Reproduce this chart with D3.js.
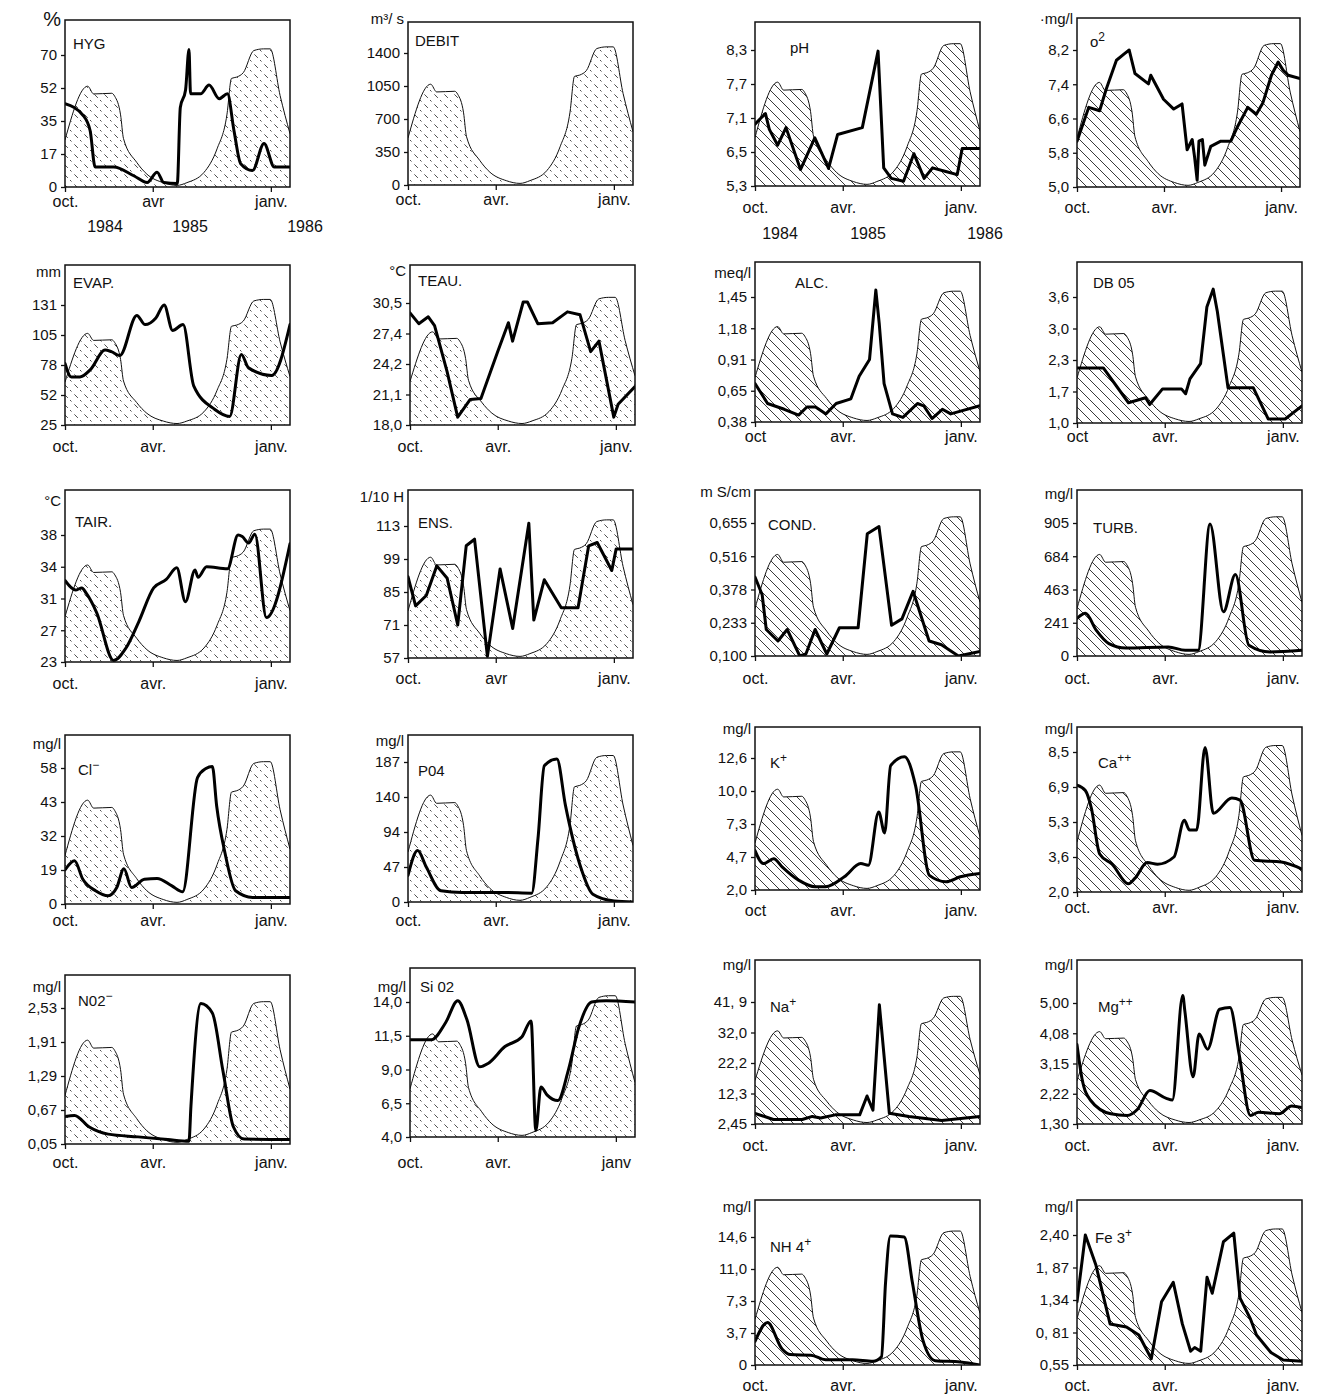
<!DOCTYPE html>
<html>
<head>
<meta charset="utf-8">
<script src="https://cdn.jsdelivr.net/npm/d3@7"></script>
<style>
  body { margin: 0; background: #fff; }
  text { font-family: "Liberation Sans", Arial, sans-serif; fill: #111; }
</style>
</head>
<body>
<div id="chart"></div>
<script>
// months counted from 1 oct. 1984

// discharge (m3/s), used as the hatched background of every plate
const debit = [[0,499],[1.55,1069],[1.96,987],[3.2,994],[3.4,962],[3.8,765],[4.0,513],[4.9,262],[5.6,136],[6.8,46],[7.85,17],[8.6,46],[9.9,154],[10.9,405],[11.65,765],[12.0,1152],[12.4,1166],[12.9,1213],[13.7,1447],[14.45,1465],[14.95,1465],[15.7,970],[16.45,565]];

const hyg = [[0,43.9],[1.26,37.7],[1.72,29.7],[2.06,10.3],[3.33,10.3],[4.7,5.8],[5.62,2.3],[6.33,7.6],[6.84,2.3],[7.87,1.8],[8.1,42],[8.5,51],[8.76,73],[8.88,49],[9.65,49],[10.29,53.6],[11.06,46.5],[11.69,49],[12.19,29.7],[12.7,12],[13.6,8.5],[14.48,22.7],[15.26,10.3],[16.45,10.3]];
const ph = [[0,6.99],[0.71,7.18],[0.98,6.9],[1.55,6.62],[2.12,6.93],[3.11,5.88],[4.09,6.75],[5.03,5.92],[5.65,6.81],[7.49,6.93],[8.69,8.28],[9.12,5.94],[9.7,5.57],[10.63,5.47],[11.42,6.44],[12.2,5.57],[12.84,5.94],[13.78,5.82],[14.72,5.7],[15.1,6.56],[16.45,6.56]];
const o2 = [[0,6.07],[0.81,6.86],[1.56,6.78],[2.02,7.29],[2.72,7.96],[3.3,8.12],[3.6,8.2],[4.0,7.65],[4.93,7.41],[5.09,7.61],[5.97,7.05],[6.75,6.82],[7.39,6.94],[7.78,5.87],[8.17,6.11],[8.35,5.71],[8.55,5.16],[8.69,6.07],[8.95,6.11],[9.14,5.51],[9.6,5.95],[10.37,6.07],[11.14,6.07],[11.67,6.42],[12.44,6.86],[13.1,6.7],[13.61,6.97],[14.26,7.61],[14.78,7.92],[15.15,7.73],[15.55,7.61],[16.45,7.53]];
const evap = [[0,79.4],[0.43,67.6],[1.02,67.6],[1.74,74],[2.74,91.5],[3.17,90],[3.75,86.5],[4.91,122],[5.48,114],[6.22,119.5],[6.87,131],[7.51,109],[8.31,114],[9.12,60],[10.73,39],[11.86,32.7],[12.75,87.5],[13.3,75.5],[15.07,69],[16.45,114]];
const teau = [[0,29.5],[0.6,28.4],[1.25,29.1],[1.68,28.2],[2.54,23.4],[3.26,18.8],[4.12,20.6],[4.85,20.7],[6,25.5],[6.81,28.5],[7.13,26.6],[7.94,30.6],[8.26,30.6],[9.05,28.4],[10.18,28.5],[11.31,29.6],[12.27,29.3],[13.08,25.5],[13.71,26.6],[14.84,18.8],[15.17,20.1],[16.45,21.9]];
const alc = [[0,0.71],[0.86,0.54],[2,0.49],[2.98,0.44],[3.55,0.51],[4.14,0.51],[4.85,0.45],[5.55,0.54],[6.62,0.58],[7.25,0.77],[8.04,0.91],[8.52,1.51],[8.78,1.22],[9.15,0.71],[9.79,0.45],[10.58,0.42],[11.69,0.54],[12.17,0.52],[12.8,0.41],[13.59,0.49],[14.23,0.45],[16.45,0.52]];
const db05 = [[0,2.15],[1.8,2.15],[3.52,1.45],[4.69,1.56],[4.97,1.41],[5.85,1.75],[7.27,1.75],[7.59,1.65],[7.92,1.94],[8.73,2.23],[9.21,3.41],[9.69,3.75],[10.01,3.32],[10.82,1.77],[12.75,1.77],[13.88,1.09],[15.17,1.09],[16.45,1.38]];
const tair = [[0,32.7],[0.72,31.8],[1.15,32],[1.45,31.5],[2.17,29.2],[3.32,23.2],[4.18,24.8],[5.05,28.1],[6.07,32],[7.03,32.8],[7.83,33.9],[8.49,30.6],[9.22,33.7],[9.45,33],[10.1,34],[11.69,33.8],[12.5,38],[12.82,37.8],[13.3,37],[13.78,38.1],[14.66,28.6],[16.45,36.9]];
const ens = [[0,91.5],[0.52,79.1],[1.25,83.5],[1.97,96.1],[2.68,90.8],[3.4,71],[3.98,104.6],[4.55,107.4],[5.43,57.7],[6.33,94.8],[7.29,69.5],[8.52,114.2],[8.9,73.1],[9.7,90.2],[10.99,78.3],[12.27,78.3],[13.08,104.6],[13.73,106],[14.84,94.1],[15.17,103.2],[16.45,103.2]];
const cond = [[0,0.43],[0.49,0.355],[0.77,0.206],[1.57,0.16],[2.2,0.206],[3.06,0.1],[3.48,0.108],[4.11,0.206],[4.91,0.108],[5.77,0.213],[7.17,0.213],[7.87,0.61],[8.76,0.64],[9.72,0.223],[10.51,0.25],[11.36,0.37],[12.58,0.16],[13.52,0.145],[14.81,0.1],[16.45,0.118]];
const turb = [[0,270],[0.58,304],[1.31,187],[2.18,90],[3.34,58],[6.27,66],[7.56,41],[8.54,41],[9.45,898],[10.47,314],[11.38,563],[12.41,78],[14.02,29],[16.45,41]];
const cl = [[0,19],[0.65,22.5],[1.22,13.8],[2.09,7.4],[2.95,4.6],[3.54,9.2],[4.03,19.5],[4.55,9.2],[5.43,13.8],[6.33,14.2],[7.46,10.1],[8.28,6.8],[9.41,53.8],[10.05,57.8],[10.54,58.7],[10.87,41.7],[11.5,25.6],[12.31,7.4],[13.61,3.7],[16.45,3.7]];
const po4 = [[0,35.6],[0.66,69],[1.25,47],[2.25,15],[3.69,12.8],[6.65,12.8],[8.74,11.9],[9.22,85.6],[9.7,182],[10.66,191],[11.31,129],[12.43,49],[13.4,10.5],[15.02,1.4],[16.45,0]];
const kPlus = [[0,5.2],[0.57,4.16],[1.28,4.56],[1.85,3.9],[2.98,2.81],[4.12,2.27],[4.83,2.27],[6.12,3.08],[7.37,4.16],[7.95,4.03],[8.74,8.28],[9.19,6.6],[9.65,12.0],[10.7,12.7],[11.55,10.4],[12.6,3.2],[13.87,2.68],[14.96,3.08],[16.45,3.35]];
const ca = [[0,6.98],[0.57,6.74],[0.98,5.94],[1.55,3.75],[2.4,3.27],[3.52,2.38],[3.95,2.62],[4.8,3.35],[5.51,3.27],[6.7,3.6],[7.49,5.38],[7.89,4.91],[8.43,4.91],[9.07,8.71],[9.7,5.7],[11.11,6.4],[11.74,6.3],[12.84,3.45],[14.88,3.37],[16.45,3.05]];
const no2 = [[0,0.55],[0.65,0.57],[1.66,0.36],[2.95,0.23],[5,0.18],[7.15,0.13],[8.76,0.1],[8.91,0.74],[9.67,2.61],[10.54,2.44],[11.35,1.38],[12.15,0.36],[12.96,0.14],[16.45,0.13]];
const sio2 = [[0,11.2],[1.45,11.2],[2.45,12.5],[3.26,14.1],[3.89,12.7],[4.77,9.2],[5.34,9.45],[6.55,10.7],[7.83,11.4],[8.54,12.6],[8.9,4.5],[9.29,7.7],[9.77,7.1],[10.58,6.7],[11.38,8.95],[12.17,12.1],[13.15,14],[14.26,14.1],[16.45,14]];
const na = [[0,5.9],[1.26,3.9],[3.23,3.9],[3.92,4.9],[4.49,4.4],[5.48,5.4],[7.29,5.4],[7.85,11.5],[8.3,6.9],[8.79,41],[9.55,5.9],[11.04,4.9],[13.54,3.6],[16.45,4.9]];
const mg = [[0,3.73],[0.34,2.69],[0.91,2.03],[2.31,1.61],[3.43,1.56],[4.14,1.75],[4.98,2.32],[6.12,2.08],[6.58,2.03],[7.37,5.23],[7.53,4.76],[8.16,2.74],[8.62,4.06],[9.26,3.59],[10.18,4.81],[10.97,4.86],[11.66,3.45],[12.53,1.56],[13.16,1.66],[14.72,1.61],[15.67,1.85],[16.45,1.8]];
const nh4 = [[0,2.74],[0.85,4.87],[1.85,1.85],[2.42,1.2],[3.83,1.14],[4.82,0.6],[6.74,0.6],[8.31,0.43],[8.95,0.96],[9.26,9.4],[9.63,14.7],[10.68,14.6],[11.31,9.4],[12.1,2.9],[13.04,0.5],[14.95,0.35],[16.45,0]];
const fe = [[0,1.31],[0.57,2.4],[1.28,1.92],[2.26,0.95],[3.38,0.9],[4.23,0.79],[5.08,0.6],[5.78,1.31],[6.65,1.63],[7.34,0.95],[7.97,0.66],[8.28,0.69],[8.74,0.66],[9.22,1.71],[9.62,1.45],[10.47,2.29],[11.26,2.43],[11.74,1.37],[12.53,1.03],[12.99,0.79],[14.09,0.65],[15.03,0.59],[16.45,0.58]];

// tick labels of each y axis
const hygTicks = ["0","17","35","52","70"];
const debitTicks = ["0","350","700","1050","1400"];
const phTicks = ["5,3","6,5","7,1","7,7","8,3"];
const o2Ticks = ["5,0","5,8","6,6","7,4","8,2"];
const evapTicks = ["25","52","78","105","131"];
const teauTicks = ["18,0","21,1","24,2","27,4","30,5"];
const alcTicks = ["0,38","0,65","0,91","1,18","1,45"];
const db05Ticks = ["1,0","1,7","2,3","3,0","3,6"];
const tairTicks = ["23","27","31","34","38"];
const ensTicks = ["57","71","85","99","113"];
const condTicks = ["0,100","0,233","0,378","0,516","0,655"];
const turbTicks = ["0","241","463","684","905"];
const clTicks = ["0","19","32","43","58"];
const po4Ticks = ["0","47","94","140","187"];
const kTicks = ["2,0","4,7","7,3","10,0","12,6"];
const caTicks = ["2,0","3,6","5,3","6,9","8,5"];
const no2Ticks = ["0,05","0,67","1,29","1,91","2,53"];
const sio2Ticks = ["4,0","6,5","9,0","11,5","14,0"];
const naTicks = ["2,45","12,3","22,2","32,0","41, 9"];
const mgTicks = ["1,30","2,22","3,15","4,08","5,00"];
const nh4Ticks = ["0","3,7","7,3","11,0","14,6"];
const feTicks = ["0,55","0, 81","1,34","1, 87","2,40"];

const monthTicks = [0, 6, 15];

// layout: box = [left, right, top, bottom, y of top tick]; smooth = rounded pen line
const panels = [
  {title:"HYG", unit:"%", ticks:hygTicks, data:hyg, smooth:true, box:[65,290,20,187,55], tp:[73,49], uy:26, lab:["oct.","avr","janv."], ly:207, hatch:"hDash"},
  {title:"DEBIT", unit:"m³/ s", ticks:debitTicks, data:null, box:[408,633,22,185,53], tp:[415,46], uy:24, lab:["oct.","avr.","janv."], ly:205, hatch:"hDash"},
  {title:"pH", unit:"", ticks:phTicks, data:ph, box:[755,980,22,186,50], tp:[790,53], uy:24, lab:["oct.","avr.","janv."], ly:213, hatch:"hSolid"},
  {title:"o", sup:"2", unit:"·mg/l", ticks:o2Ticks, data:o2, box:[1077,1300,18,187,50], tp:[1090,47], uy:24, lab:["oct.","avr.","janv."], ly:213, hatch:"hSolid"},

  {title:"EVAP.", unit:"mm", ticks:evapTicks, data:evap, smooth:true, box:[65,290,265,425,305], tp:[73,288], uy:277, lab:["oct.","avr.","janv."], ly:452, hatch:"hDash"},
  {title:"TEAU.", unit:"°C", ticks:teauTicks, data:teau, box:[410,635,265,425,303], tp:[418,286], uy:276, lab:["oct.","avr.","janv."], ly:452, hatch:"hDash"},
  {title:"ALC.", unit:"meq/l", ticks:alcTicks, data:alc, box:[755,980,262,422,297], tp:[795,288], uy:278, lab:["oct","avr.","janv."], ly:442, hatch:"hSolid"},
  {title:"DB 05", unit:"", ticks:db05Ticks, data:db05, box:[1077,1302,262,423,297], tp:[1093,288], uy:278, lab:["oct","avr.","janv."], ly:442, hatch:"hSolid"},

  {title:"TAIR.", unit:"°C", ticks:tairTicks, data:tair, smooth:true, box:[65,290,490,662,535], tp:[75,527], uy:506, lab:["oct.","avr.","janv."], ly:689, hatch:"hDash"},
  {title:"ENS.", unit:"1/10 H", ticks:ensTicks, data:ens, box:[408,633,490,658,526], tp:[418,528], uy:502, lab:["oct.","avr","janv."], ly:684, hatch:"hDash"},
  {title:"COND.", unit:"m S/cm", ticks:condTicks, data:cond, box:[755,980,490,656,523], tp:[768,530], uy:497, lab:["oct.","avr.","janv."], ly:684, hatch:"hSolid"},
  {title:"TURB.", unit:"mg/l", ticks:turbTicks, data:turb, smooth:true, box:[1077,1302,490,656,523], tp:[1093,533], uy:499, lab:["oct.","avr.","janv."], ly:684, hatch:"hSolid"},

  {title:"Cl", sup:"−", unit:"mg/l", ticks:clTicks, data:cl, smooth:true, box:[65,290,735,904,768], tp:[78,775], uy:749, lab:["oct.","avr.","janv."], ly:926, hatch:"hDash"},
  {title:"P04", unit:"mg/l", ticks:po4Ticks, data:po4, smooth:true, box:[408,633,735,902,762], tp:[418,776], uy:746, lab:["oct.","avr.","janv."], ly:926, hatch:"hDash"},
  {title:"K", sup:"+", unit:"mg/l", ticks:kTicks, data:kPlus, smooth:true, box:[755,980,727,890,758], tp:[770,768], uy:734, lab:["oct","avr.","janv."], ly:916, hatch:"hSolid"},
  {title:"Ca", sup:"++", unit:"mg/l", ticks:caTicks, data:ca, smooth:true, box:[1077,1302,727,892,752], tp:[1098,768], uy:734, lab:["oct.","avr.","janv."], ly:913, hatch:"hSolid"},

  {title:"N02", sup:"−", unit:"mg/l", ticks:no2Ticks, data:no2, smooth:true, box:[65,290,975,1144,1008], tp:[78,1006], uy:992, lab:["oct.","avr.","janv."], ly:1168, hatch:"hDash"},
  {title:"Si 02", unit:"mg/l", ticks:sio2Ticks, data:sio2, smooth:true, box:[410,635,968,1137,1002], tp:[420,992], uy:992, lab:["oct.","avr.","janv"], ly:1168, hatch:"hDash"},
  {title:"Na", sup:"+", unit:"mg/l", ticks:naTicks, data:na, box:[755,980,960,1124,1002], tp:[770,1012], uy:970, lab:["oct.","avr.","janv."], ly:1151, hatch:"hSolid"},
  {title:"Mg", sup:"++", unit:"mg/l", ticks:mgTicks, data:mg, smooth:true, box:[1077,1302,960,1124,1003], tp:[1098,1012], uy:970, lab:["oct.","avr.","janv."], ly:1151, hatch:"hSolid"},

  {title:"NH 4", sup:"+", unit:"mg/l", ticks:nh4Ticks, data:nh4, smooth:true, box:[755,980,1200,1365,1237], tp:[770,1252], uy:1212, lab:["oct.","avr.","janv."], ly:1391, hatch:"hSolid"},
  {title:"Fe 3", sup:"+", unit:"mg/l", ticks:feTicks, data:fe, box:[1077,1302,1200,1365,1235], tp:[1095,1243], uy:1212, lab:["oct.","avr.","janv."], ly:1391, hatch:"hSolid"}
];

const svg = d3.select("#chart")
  .append("svg")
  .attr("width", 1323)
  .attr("height", 1397);

svg.append("rect").attr("width", 1323).attr("height", 1397).attr("fill", "#fff");

const defs = svg.append("defs");

// "\" hatching, broken on the left plates, plain on the right ones
function hatch(id, dash, width) {
  const pat = defs.append("pattern")
    .attr("id", id)
    .attr("patternUnits", "userSpaceOnUse")
    .attr("width", 10)
    .attr("height", 10);
  pat.append("path")
    .attr("d", "M-2,-2L12,12M-2,8L2,12M8,-2L12,2")
    .attr("stroke", "#222")
    .attr("stroke-width", width)
    .attr("stroke-dasharray", dash);
}
hatch("hDash", "5,4", 0.8);
hatch("hSolid", null, 0.9);

const parseTick = (t) => +t.replace(/\s/g, "").replace(",", ".");

panels.forEach((p, i) => {
  const [x0, x1, top, bottom, tickTop] = p.box;
  const w = x1 - x0;

  const x = d3.scaleLinear()
    .domain([0, 6, 15, 16.45])
    .range([x0, x0 + 0.39 * w, x0 + 0.915 * w, x1]);

  const vals = p.ticks.map(parseTick);
  const step = (bottom - tickTop) / (vals.length - 1);
  const y = d3.scaleLinear()
    .domain(vals)
    .range(vals.map((v, j) => bottom - j * step));

  // the discharge curve, scaled so that 1400 m3/s sits on the top tick
  const yq = d3.scaleLinear().domain([0, 1400]).range([bottom, tickTop]);

  const g = svg.append("g");

  g.append("clipPath").attr("id", "clip" + i)
    .append("rect")
    .attr("x", x0).attr("y", top)
    .attr("width", w).attr("height", bottom - top);

  const plot = g.append("g").attr("clip-path", `url(#clip${i})`);

  plot.append("path")
    .datum(debit)
    .attr("d", d3.area()
      .x(d => x(d[0]))
      .y0(bottom)
      .y1(d => yq(d[1]))
      .curve(d3.curveMonotoneX))
    .attr("fill", `url(#${p.hatch})`);

  plot.append("path")
    .datum(debit)
    .attr("d", d3.line()
      .x(d => x(d[0]))
      .y(d => yq(d[1]))
      .curve(d3.curveMonotoneX))
    .attr("fill", "none")
    .attr("stroke", "#111")
    .attr("stroke-width", 1);

  if (p.data) {
    plot.append("path")
      .datum(p.data)
      .attr("d", d3.line()
        .x(d => x(d[0]))
        .y(d => y(d[1]))
        .curve(p.smooth ? d3.curveMonotoneX : d3.curveLinear))
      .attr("fill", "none")
      .attr("stroke", "#000")
      .attr("stroke-width", 3)
      .attr("stroke-linejoin", "round")
      .attr("stroke-linecap", "round");
  }

  // frame
  g.append("rect")
    .attr("x", x0).attr("y", top)
    .attr("width", w).attr("height", bottom - top)
    .attr("fill", "none")
    .attr("stroke", "#111")
    .attr("stroke-width", 1.5);

  // y axis
  const ya = g.append("g")
    .attr("transform", `translate(${x0},0)`)
    .call(d3.axisLeft(y)
      .tickValues(vals)
      .tickFormat((d, j) => p.ticks[j])
      .tickSize(4)
      .tickPadding(4));
  ya.select(".domain").remove();
  ya.selectAll("line").attr("stroke", "#111").attr("stroke-width", 1.3);
  ya.selectAll("text")
    .attr("font-size", 15)
    .attr("font-family", "Liberation Sans, Arial, sans-serif")
    .attr("fill", "#111");

  // x axis
  const xa = g.append("g")
    .attr("transform", `translate(0,${bottom})`)
    .call(d3.axisBottom(x)
      .tickValues(monthTicks)
      .tickFormat((d, j) => p.lab[j])
      .tickSize(5)
      .tickPadding(p.ly - bottom - 5 - 11));
  xa.select(".domain").remove();
  xa.selectAll("line").attr("stroke", "#111").attr("stroke-width", 1.3);
  xa.selectAll("text")
    .attr("font-size", 16)
    .attr("font-family", "Liberation Sans, Arial, sans-serif")
    .attr("fill", "#111");

  // plate name
  const t = g.append("text")
    .attr("x", p.tp[0]).attr("y", p.tp[1])
    .attr("font-size", 15)
    .text(p.title);
  if (p.sup) {
    t.append("tspan")
      .attr("dy", -6)
      .attr("font-size", 12)
      .text(p.sup);
  }

  // unit
  if (p.unit) {
    g.append("text")
      .attr("x", x0 - 4).attr("y", p.uy)
      .attr("text-anchor", "end")
      .attr("font-size", p.unit === "%" ? 20 : 15)
      .text(p.unit);
  }
});

// year labels under the first row
const years = ["1984", "1985", "1986"];
const yearPos = [[105, 190, 305, 232], [780, 868, 985, 239]];
yearPos.forEach(pos => {
  years.forEach((yr, j) => {
    svg.append("text")
      .attr("x", pos[j]).attr("y", pos[3])
      .attr("text-anchor", "middle")
      .attr("font-size", 16)
      .text(yr);
  });
});
</script>
</body>
</html>
